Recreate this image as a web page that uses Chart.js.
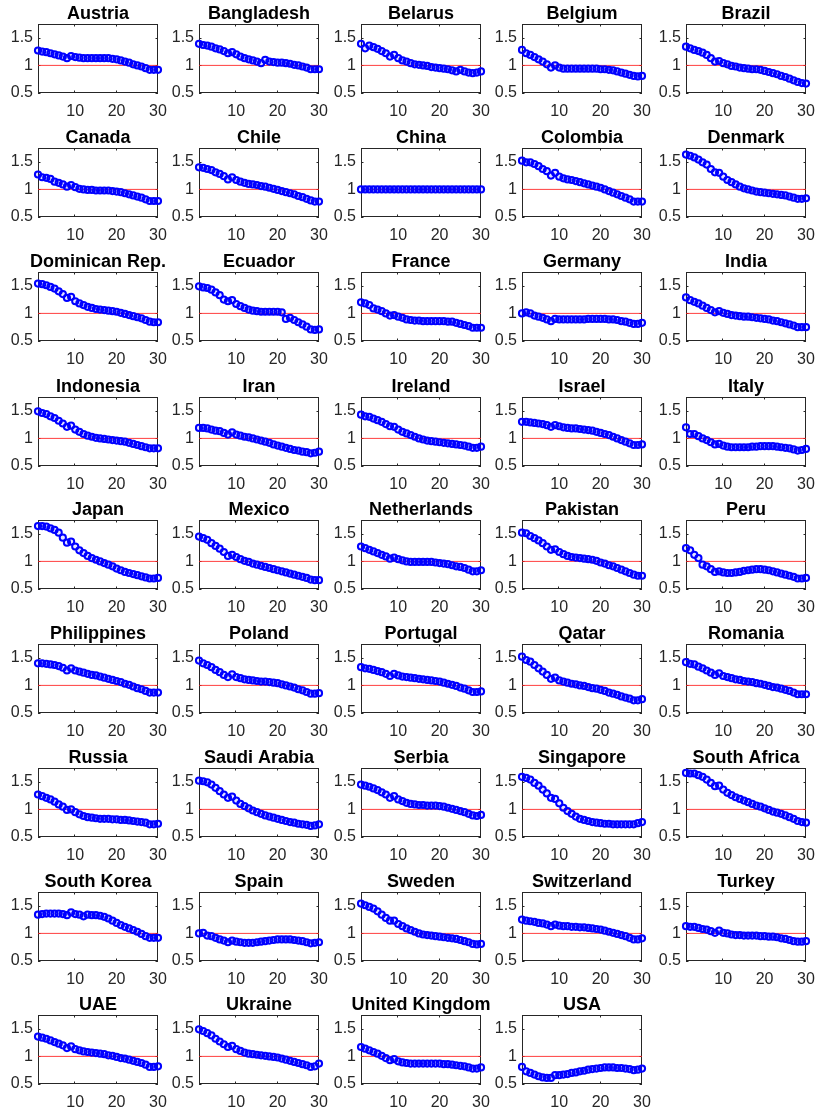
<!DOCTYPE html>
<html>
<head>
<meta charset="utf-8">
<script src="https://cdn.jsdelivr.net/npm/chart.js@4.4.1/dist/chart.umd.min.js"></script>
<style>
  html, body { margin: 0; padding: 0; background: #fff; }
  #grid { position: relative; width: 818px; height: 1112px; overflow: hidden; }
  #grid canvas { position: absolute; }
</style>
</head>
<body>
<div id="grid"></div>
<script>
// horizon (x) and axis ticks
const steps = [1,2,3,4,5,6,7,8,9,10,11,12,13,14,15,16,17,18,19,20,21,22,23,24,25,26,27,28,29,30];
const xTicks = [10, 20, 30];
const yTicks = [0.5, 1, 1.5];
const refLevel = 1;

// values per country
const austria = [1.27,1.25,1.24,1.22,1.20,1.18,1.16,1.13,1.17,1.15,1.14,1.13,1.13,1.13,1.13,1.13,1.13,1.13,1.12,1.11,1.09,1.07,1.05,1.02,1.00,0.98,0.95,0.92,0.92,0.92];
const bangladesh = [1.39,1.37,1.36,1.34,1.31,1.29,1.26,1.22,1.24,1.20,1.16,1.13,1.11,1.09,1.07,1.04,1.10,1.07,1.06,1.05,1.05,1.04,1.03,1.01,1.00,0.98,0.96,0.93,0.93,0.93];
const belarus = [1.39,1.31,1.36,1.33,1.30,1.26,1.22,1.16,1.19,1.13,1.09,1.07,1.04,1.02,1.01,1.00,0.99,0.97,0.96,0.95,0.94,0.93,0.91,0.89,0.92,0.89,0.87,0.86,0.87,0.89];
const belgium = [1.28,1.22,1.19,1.15,1.11,1.07,1.02,0.96,1.00,0.96,0.94,0.94,0.94,0.94,0.94,0.94,0.94,0.94,0.94,0.93,0.93,0.92,0.91,0.89,0.87,0.85,0.83,0.81,0.80,0.81];
const brazil = [1.34,1.31,1.28,1.26,1.23,1.19,1.13,1.07,1.08,1.04,1.02,0.99,0.98,0.96,0.95,0.94,0.93,0.93,0.92,0.90,0.88,0.86,0.84,0.81,0.79,0.76,0.73,0.70,0.68,0.67];
const canada = [1.27,1.22,1.21,1.19,1.14,1.12,1.09,1.05,1.08,1.04,1.01,1.00,0.99,0.99,0.98,0.98,0.98,0.98,0.97,0.96,0.95,0.93,0.91,0.89,0.87,0.85,0.82,0.79,0.79,0.79];
const chile = [1.40,1.39,1.37,1.35,1.31,1.28,1.24,1.18,1.22,1.17,1.14,1.12,1.10,1.09,1.08,1.06,1.05,1.03,1.01,0.99,0.97,0.95,0.93,0.91,0.88,0.86,0.83,0.80,0.78,0.78];
const china = [1,1,1,1,1,1,1,1,1,1,1,1,1,1,1,1,1,1,1,1,1,1,1,1,1,1,1,1,1,1];
const colombia = [1.52,1.49,1.49,1.46,1.42,1.37,1.33,1.25,1.30,1.23,1.20,1.18,1.17,1.15,1.13,1.11,1.09,1.07,1.05,1.03,1.00,0.97,0.94,0.91,0.88,0.85,0.82,0.78,0.78,0.78];
const denmark = [1.63,1.61,1.58,1.54,1.49,1.45,1.37,1.31,1.30,1.23,1.17,1.13,1.09,1.05,1.02,1.00,0.98,0.96,0.95,0.94,0.93,0.92,0.91,0.90,0.89,0.87,0.85,0.83,0.83,0.84];
const dominicanRep = [1.54,1.53,1.51,1.48,1.45,1.40,1.35,1.28,1.30,1.22,1.18,1.15,1.12,1.10,1.08,1.07,1.06,1.05,1.04,1.03,1.01,0.99,0.97,0.95,0.93,0.91,0.88,0.85,0.84,0.84];
const ecuador = [1.49,1.47,1.46,1.43,1.38,1.33,1.25,1.22,1.24,1.17,1.13,1.10,1.07,1.05,1.04,1.03,1.03,1.03,1.03,1.03,1.02,0.90,0.92,0.88,0.84,0.80,0.76,0.71,0.70,0.71];
const france = [1.20,1.18,1.15,1.09,1.07,1.04,1.00,0.96,0.97,0.94,0.92,0.89,0.88,0.87,0.87,0.86,0.86,0.86,0.86,0.86,0.86,0.85,0.85,0.83,0.81,0.79,0.77,0.74,0.74,0.74];
const germany = [1.00,1.02,1.00,0.96,0.94,0.92,0.89,0.86,0.90,0.89,0.89,0.89,0.89,0.89,0.89,0.89,0.90,0.90,0.90,0.90,0.90,0.89,0.89,0.88,0.86,0.85,0.83,0.81,0.81,0.83];
const india = [1.29,1.24,1.21,1.18,1.14,1.10,1.06,1.02,1.04,1.01,0.99,0.97,0.96,0.95,0.94,0.94,0.93,0.92,0.91,0.90,0.89,0.87,0.86,0.84,0.82,0.80,0.78,0.75,0.75,0.75];
const indonesia = [1.49,1.46,1.44,1.40,1.37,1.32,1.27,1.21,1.23,1.16,1.12,1.08,1.05,1.03,1.01,1.00,0.99,0.98,0.97,0.96,0.95,0.94,0.92,0.90,0.88,0.86,0.84,0.82,0.82,0.82];
const iran = [1.19,1.19,1.18,1.16,1.14,1.13,1.10,1.07,1.11,1.07,1.05,1.03,1.02,1.00,0.98,0.96,0.94,0.92,0.89,0.87,0.85,0.83,0.81,0.79,0.78,0.76,0.75,0.73,0.74,0.76];
const ireland = [1.43,1.40,1.39,1.36,1.33,1.30,1.26,1.22,1.21,1.16,1.12,1.09,1.06,1.03,1.00,0.98,0.96,0.95,0.94,0.93,0.92,0.91,0.90,0.89,0.88,0.87,0.85,0.83,0.83,0.85];
const israel = [1.30,1.30,1.29,1.28,1.27,1.26,1.24,1.21,1.24,1.22,1.20,1.19,1.18,1.18,1.17,1.16,1.15,1.14,1.12,1.10,1.08,1.06,1.03,1.00,0.97,0.94,0.91,0.88,0.88,0.89];
const italy = [1.20,1.08,1.08,1.04,1.00,0.97,0.93,0.89,0.90,0.87,0.85,0.84,0.84,0.84,0.84,0.84,0.85,0.85,0.86,0.86,0.86,0.86,0.85,0.84,0.83,0.82,0.80,0.78,0.79,0.81];
const japan = [1.64,1.64,1.63,1.60,1.57,1.52,1.43,1.34,1.36,1.27,1.20,1.15,1.10,1.06,1.03,1.00,0.97,0.94,0.91,0.87,0.84,0.81,0.79,0.77,0.75,0.73,0.71,0.69,0.69,0.70];
const mexico = [1.45,1.42,1.39,1.33,1.28,1.23,1.17,1.10,1.12,1.08,1.04,1.01,0.99,0.96,0.94,0.92,0.90,0.88,0.86,0.84,0.82,0.80,0.78,0.76,0.74,0.72,0.70,0.67,0.66,0.66];
const netherlands = [1.27,1.24,1.21,1.18,1.15,1.12,1.09,1.05,1.07,1.04,1.02,1.00,0.99,0.99,0.99,0.99,0.99,0.99,0.98,0.97,0.96,0.95,0.93,0.91,0.90,0.88,0.85,0.82,0.82,0.84];
const pakistan = [1.52,1.51,1.46,1.42,1.38,1.33,1.27,1.21,1.22,1.17,1.13,1.10,1.08,1.07,1.06,1.05,1.04,1.03,1.01,0.98,0.96,0.93,0.91,0.88,0.85,0.82,0.79,0.76,0.74,0.74];
const peru = [1.24,1.20,1.12,1.06,0.94,0.91,0.86,0.81,0.82,0.80,0.79,0.79,0.80,0.81,0.83,0.84,0.85,0.86,0.86,0.85,0.84,0.82,0.80,0.78,0.76,0.74,0.72,0.69,0.69,0.70];
const philippines = [1.40,1.40,1.39,1.38,1.37,1.35,1.32,1.27,1.31,1.27,1.25,1.23,1.21,1.19,1.18,1.16,1.14,1.12,1.10,1.08,1.06,1.03,1.01,0.98,0.95,0.93,0.90,0.87,0.87,0.87];
const poland = [1.45,1.40,1.37,1.33,1.28,1.24,1.19,1.15,1.20,1.15,1.13,1.11,1.10,1.09,1.08,1.07,1.07,1.06,1.05,1.04,1.02,1.00,0.98,0.96,0.93,0.91,0.88,0.85,0.85,0.86];
const portugal = [1.33,1.31,1.30,1.28,1.26,1.24,1.21,1.17,1.21,1.18,1.16,1.15,1.14,1.13,1.12,1.11,1.10,1.09,1.08,1.07,1.05,1.03,1.01,0.99,0.96,0.94,0.91,0.88,0.88,0.89];
const qatar = [1.52,1.46,1.43,1.37,1.31,1.25,1.19,1.12,1.14,1.09,1.07,1.05,1.03,1.02,1.00,0.99,0.97,0.95,0.94,0.92,0.90,0.87,0.85,0.83,0.80,0.78,0.76,0.73,0.73,0.75];
const romania = [1.42,1.39,1.38,1.34,1.31,1.27,1.23,1.19,1.22,1.17,1.15,1.13,1.11,1.10,1.08,1.07,1.06,1.04,1.03,1.01,0.99,0.97,0.96,0.94,0.92,0.90,0.87,0.84,0.84,0.84];
const russia = [1.27,1.24,1.21,1.18,1.14,1.09,1.05,0.99,1.00,0.95,0.91,0.88,0.86,0.85,0.84,0.83,0.83,0.83,0.82,0.82,0.81,0.81,0.80,0.79,0.78,0.77,0.76,0.73,0.73,0.74];
const saudiArabia = [1.52,1.51,1.49,1.45,1.39,1.33,1.27,1.21,1.23,1.16,1.10,1.06,1.02,0.98,0.95,0.92,0.89,0.87,0.85,0.83,0.81,0.79,0.77,0.76,0.74,0.73,0.72,0.70,0.71,0.73];
const serbia = [1.45,1.43,1.41,1.38,1.35,1.31,1.27,1.21,1.24,1.18,1.15,1.12,1.10,1.09,1.08,1.08,1.07,1.07,1.07,1.06,1.05,1.03,1.01,0.99,0.97,0.95,0.92,0.89,0.88,0.90];
const singapore = [1.59,1.57,1.54,1.48,1.43,1.36,1.29,1.21,1.19,1.11,1.03,0.97,0.92,0.87,0.83,0.81,0.79,0.77,0.76,0.75,0.74,0.74,0.73,0.73,0.73,0.73,0.73,0.73,0.75,0.77];
const southAfrica = [1.66,1.65,1.65,1.62,1.59,1.54,1.48,1.42,1.43,1.36,1.30,1.26,1.22,1.19,1.16,1.13,1.10,1.07,1.05,1.02,0.99,0.96,0.94,0.92,0.89,0.86,0.83,0.79,0.77,0.76];
const southKorea = [1.34,1.35,1.36,1.36,1.36,1.36,1.35,1.33,1.38,1.35,1.34,1.31,1.34,1.33,1.33,1.32,1.30,1.27,1.23,1.19,1.15,1.12,1.09,1.06,1.03,0.99,0.95,0.92,0.92,0.92];
const spain = [1.00,1.01,0.96,0.95,0.92,0.89,0.87,0.84,0.87,0.85,0.84,0.83,0.83,0.83,0.84,0.85,0.86,0.87,0.88,0.89,0.89,0.89,0.89,0.88,0.87,0.86,0.84,0.82,0.83,0.84];
const sweden = [1.54,1.51,1.48,1.45,1.40,1.34,1.28,1.23,1.23,1.17,1.13,1.09,1.06,1.03,1.00,0.98,0.97,0.96,0.95,0.94,0.93,0.92,0.91,0.90,0.88,0.86,0.84,0.81,0.80,0.81];
const switzerland = [1.25,1.23,1.22,1.21,1.19,1.18,1.16,1.13,1.16,1.14,1.13,1.13,1.12,1.12,1.11,1.11,1.10,1.09,1.08,1.07,1.05,1.03,1.01,0.99,0.97,0.95,0.92,0.89,0.89,0.91];
const turkey = [1.13,1.12,1.12,1.10,1.08,1.07,1.04,1.01,1.05,1.01,1.00,0.98,0.97,0.97,0.96,0.96,0.96,0.96,0.95,0.95,0.94,0.94,0.93,0.91,0.90,0.88,0.86,0.85,0.85,0.86];
const uae = [1.36,1.34,1.32,1.29,1.26,1.23,1.20,1.15,1.18,1.13,1.11,1.09,1.08,1.07,1.06,1.05,1.04,1.02,1.01,0.99,0.97,0.96,0.94,0.92,0.90,0.88,0.85,0.81,0.81,0.82];
const ukraine = [1.49,1.46,1.42,1.38,1.32,1.27,1.22,1.17,1.19,1.13,1.10,1.07,1.05,1.04,1.03,1.02,1.01,1.00,0.99,0.98,0.96,0.94,0.92,0.90,0.88,0.86,0.84,0.81,0.82,0.87];
const unitedKingdom = [1.17,1.14,1.11,1.08,1.05,1.01,0.97,0.93,0.95,0.91,0.89,0.88,0.87,0.87,0.87,0.87,0.87,0.87,0.87,0.87,0.86,0.86,0.85,0.84,0.83,0.82,0.80,0.78,0.78,0.80];
const usa = [0.81,0.73,0.70,0.67,0.64,0.62,0.61,0.61,0.66,0.66,0.67,0.68,0.70,0.71,0.73,0.74,0.76,0.77,0.78,0.79,0.80,0.80,0.80,0.79,0.79,0.78,0.77,0.75,0.76,0.78];

const countries = [
  ['Austria', austria], ['Bangladesh', bangladesh], ['Belarus', belarus], ['Belgium', belgium], ['Brazil', brazil],
  ['Canada', canada], ['Chile', chile], ['China', china], ['Colombia', colombia], ['Denmark', denmark],
  ['Dominican Rep.', dominicanRep], ['Ecuador', ecuador], ['France', france], ['Germany', germany], ['India', india],
  ['Indonesia', indonesia], ['Iran', iran], ['Ireland', ireland], ['Israel', israel], ['Italy', italy],
  ['Japan', japan], ['Mexico', mexico], ['Netherlands', netherlands], ['Pakistan', pakistan], ['Peru', peru],
  ['Philippines', philippines], ['Poland', poland], ['Portugal', portugal], ['Qatar', qatar], ['Romania', romania],
  ['Russia', russia], ['Saudi Arabia', saudiArabia], ['Serbia', serbia], ['Singapore', singapore], ['South Africa', southAfrica],
  ['South Korea', southKorea], ['Spain', spain], ['Sweden', sweden], ['Switzerland', switzerland], ['Turkey', turkey],
  ['UAE', uae], ['Ukraine', ukraine], ['United Kingdom', unitedKingdom], ['USA', usa]
];

// panel placement (plot-area left / top edges in the page)
const colLeft = [38, 199, 361, 522, 686];
const rowTop = [24, 148, 272, 397, 520, 644, 768, 892, 1015];
const yAxisW = 38, plotW = 120, plotH = 69, padTop = 24, padRight = 30, padLeft = 0, xAxisH = 31;
const FONT = '"Liberation Sans", Helvetica, Arial, sans-serif';
const AXIS = '#262626';

// MATLAB-style box with inward ticks on all four sides
const boxPlugin = {
  id: 'box',
  beforeDatasetsDraw(chart) {
    const { ctx, chartArea: a, scales } = chart;
    ctx.save();
    ctx.strokeStyle = AXIS;
    ctx.lineWidth = 1;
    ctx.strokeRect(a.left + 0.5, a.top + 0.5, a.right - a.left - 1, a.bottom - a.top - 1);
    ctx.beginPath();
    xTicks.forEach(v => {
      const px = Math.round(scales.x.getPixelForValue(v)) - 0.5;
      ctx.moveTo(px, a.bottom); ctx.lineTo(px, a.bottom - 2.5);
      ctx.moveTo(px, a.top); ctx.lineTo(px, a.top + 2.5);
    });
    yTicks.forEach(v => {
      const py = Math.round(scales.y.getPixelForValue(v)) + 0.5;
      ctx.moveTo(a.left, py); ctx.lineTo(a.left + 2.5, py);
      ctx.moveTo(a.right, py); ctx.lineTo(a.right - 2.5, py);
    });
    ctx.stroke();
    ctx.restore();
  }
};

// panel title centred over the plot area, drawn at full width
const panelTitle = {
  id: 'panelTitle',
  afterDraw(chart, args, opts) {
    const { ctx, chartArea: a } = chart;
    ctx.save();
    ctx.font = 'bold 18px ' + FONT;
    ctx.fillStyle = '#000';
    ctx.textAlign = 'center';
    ctx.textBaseline = 'alphabetic';
    ctx.fillText(opts.text, (a.left + a.right) / 2, a.top - 5);
    ctx.restore();
  }
};

const grid = document.getElementById('grid');
countries.forEach(([name, values], i) => {
  const col = i % 5, row = Math.floor(i / 5);
  const canvas = document.createElement('canvas');
  const w = padLeft + yAxisW + plotW + padRight, h = padTop + plotH + xAxisH;
  canvas.width = w; canvas.height = h;
  canvas.style.left = (colLeft[col] - yAxisW - padLeft) + 'px';
  canvas.style.top = (rowTop[row] - padTop) + 'px';
  grid.appendChild(canvas);

  new Chart(canvas, {
    type: 'scatter',
    data: {
      datasets: [
        {
          data: steps.map((s, k) => ({ x: s, y: values[k] })),
          showLine: false,
          pointRadius: 3.1,
          pointBorderWidth: 2,
          pointBorderColor: '#0000ff',
          pointBackgroundColor: 'rgba(0,0,255,0.1)',
          clip: false,
          order: 0
        },
        {
          data: [{ x: steps[0], y: refLevel }, { x: steps[steps.length - 1], y: refLevel }],
          showLine: true,
          pointRadius: 0,
          borderColor: 'rgba(255,30,30,0.85)',
          borderWidth: 1,
          order: 1
        }
      ]
    },
    options: {
      responsive: false,
      animation: false,
      devicePixelRatio: 1,
      events: [],
      layout: { padding: { top: padTop, left: padLeft, right: padRight, bottom: 0 } },
      plugins: {
        legend: { display: false },
        tooltip: { enabled: false },
        title: { display: false },
        panelTitle: { text: name }
      },
      scales: {
        x: {
          type: 'linear',
          min: 1,
          max: 30,
          grid: { display: false, drawTicks: false },
          border: { display: false },
          afterBuildTicks: s => { s.ticks = xTicks.map(v => ({ value: v })); },
          afterFit: s => { s.height = xAxisH; },
          ticks: { color: AXIS, padding: 9, maxRotation: 0, font: { family: FONT, size: 16 } }
        },
        y: {
          min: 0.5,
          max: 1.75,
          grid: { display: false, drawTicks: false },
          border: { display: false },
          afterBuildTicks: s => { s.ticks = yTicks.map(v => ({ value: v })); },
          afterFit: s => { s.width = yAxisW; },
          ticks: { color: AXIS, padding: 5, font: { family: FONT, size: 16 }, callback: v => String(v) }
        }
      }
    },
    plugins: [boxPlugin, panelTitle]
  });
});
</script>
</body>
</html>
